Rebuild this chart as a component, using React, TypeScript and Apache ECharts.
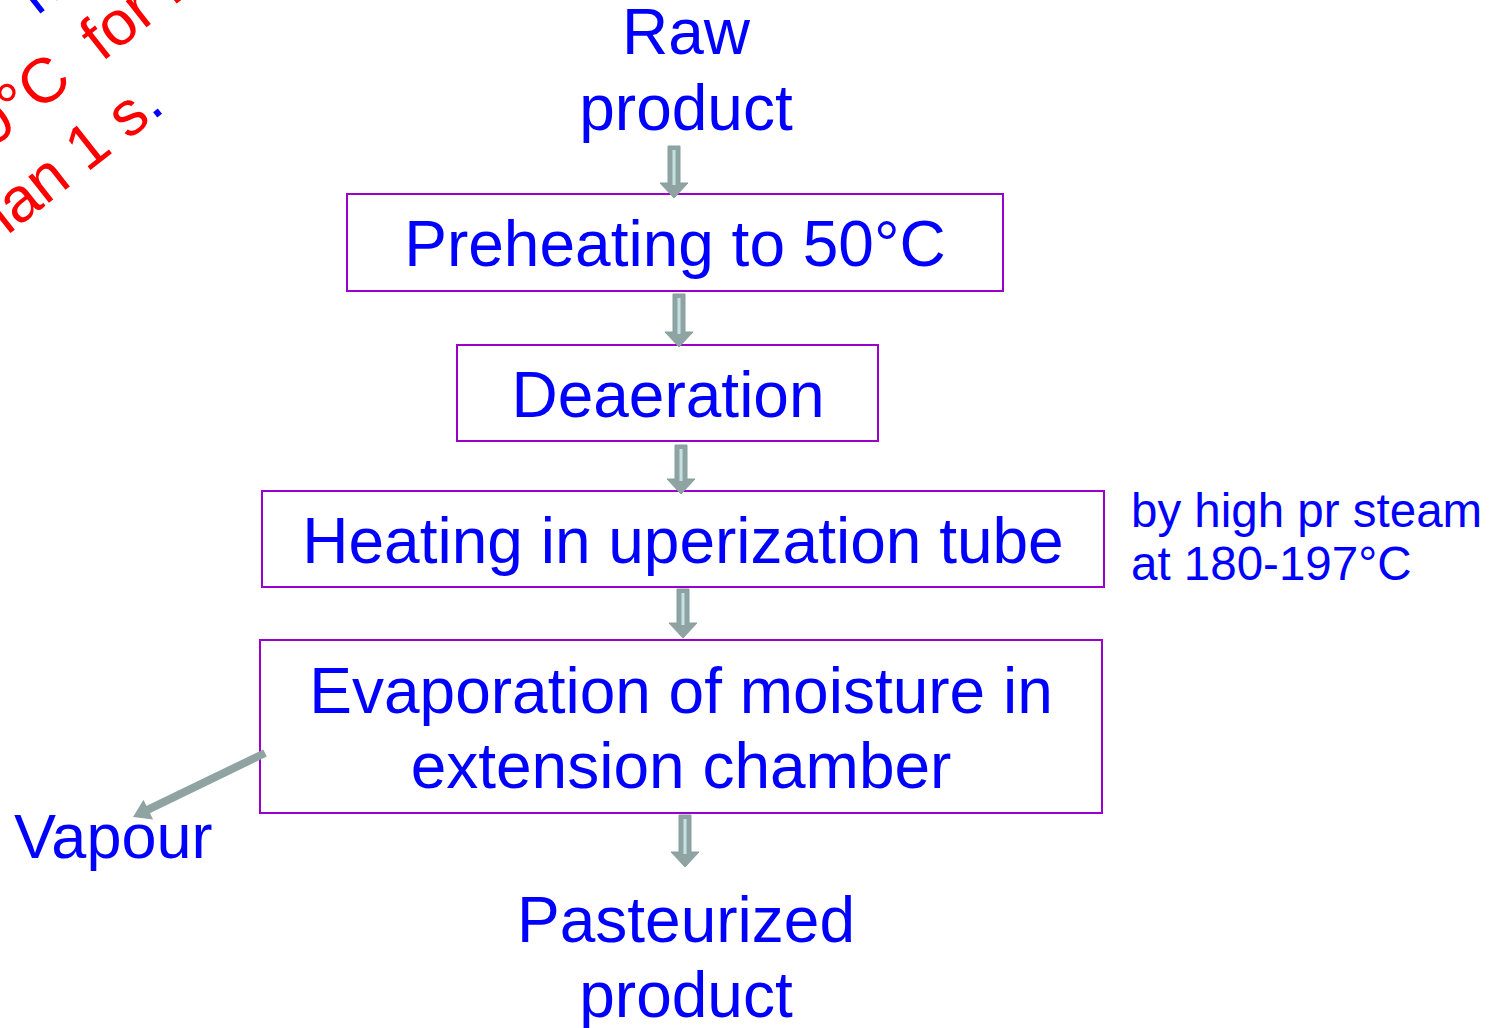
import React, { useEffect, useRef } from "react";
import * as echarts from "echarts";

// ---- content ----
const inputLines = ["Raw", "product"];
const stepLabels = [
  ["Preheating to 50°C"],
  ["Deaeration"],
  ["Heating in uperization tube"],
  ["Evaporation of moisture in", "extension chamber"],
];
const outputLines = ["Pasteurized", "product"];
const sideNoteLines = ["by high pr steam", "at 180-197°C"];
const vapourLabel = "Vapour";
const noteLine1 = "heated";
const noteLine2 = "to 150°C  for not";
const noteLine3 = "more than 1 s";
const noteLine3End = ".";

// ---- layout ----
const W = 1497;
const H = 1028;
const FONT = "'Liberation Sans', Arial, sans-serif";
const BIG = 64;
const SMALL = 47.5;
const BLUE = "#0000ff";
const PURPLE = "#9900cc";
const ARROW = "#8fa3a3";
const ARROW_HI = "#c4e2e2";

const boxes = [
  { x: 347, y: 194, w: 656, h: 97, cx: 675 },
  { x: 457, y: 345, w: 421, h: 96, cx: 668 },
  { x: 262, y: 491, w: 842, h: 96, cx: 683 },
  { x: 260, y: 640, w: 842, h: 173, cx: 681 },
];
const stepBaselines = [[266], [417], [563], [713, 788]];
const arrows = [
  { cx: 674, top: 146, head: 183, tip: 198 },
  { cx: 679, top: 294, head: 332, tip: 347 },
  { cx: 681, top: 445, head: 479, tip: 494 },
  { cx: 683, top: 589, head: 623, tip: 638 },
  { cx: 685, top: 815, head: 852, tip: 867 },
];

function mid(baseline: number, size: number) {
  return baseline - 0.3465 * size;
}

function blockArrow(a: { cx: number; top: number; head: number; tip: number }) {
  const sw = 6;
  const hw = 14;
  return [
    {
      type: "polygon",
      shape: {
        points: [
          [a.cx - sw, a.top],
          [a.cx + sw, a.top],
          [a.cx + sw, a.head],
          [a.cx + hw, a.head],
          [a.cx, a.tip],
          [a.cx - hw, a.head],
          [a.cx - sw, a.head],
        ],
      },
      style: { fill: ARROW, stroke: "#86a0a0", lineWidth: 1 },
      z: 10,
    },
    {
      type: "line",
      shape: { x1: a.cx, y1: a.top + 4, x2: a.cx, y2: a.head + 2 },
      style: { stroke: ARROW_HI, lineWidth: 3 },
      z: 11,
    },
  ];
}

function bigText(text: string, x: number, baseline: number, color = BLUE, align = "center", size = BIG) {
  return {
    type: "text",
    x,
    y: mid(baseline, size),
    style: {
      text,
      fill: color,
      font: `${size}px ${FONT}`,
      align,
      verticalAlign: "middle",
    },
    z: 20,
  };
}

export default function App() {
  const ref = useRef<HTMLDivElement>(null);

  useEffect(() => {
    if (!ref.current) return;
    const chart = echarts.init(ref.current, undefined, { renderer: "svg" });
    const elements: any[] = [];

    // input
    elements.push(bigText(inputLines[0], 686, 54));
    elements.push(bigText(inputLines[1], 686, 130));

    // boxes and labels
    boxes.forEach((b, i) => {
      elements.push({
        type: "rect",
        shape: { x: b.x, y: b.y, width: b.w, height: b.h },
        style: { fill: "none", stroke: PURPLE, lineWidth: 2 },
        z: 5,
      });
      stepLabels[i].forEach((t, j) => {
        elements.push(bigText(t, b.cx, stepBaselines[i][j]));
      });
    });

    // output
    elements.push(bigText(outputLines[0], 686, 942));
    elements.push(bigText(outputLines[1], 686, 1017));

    // side note
    elements.push(bigText(sideNoteLines[0], 1131, 527, BLUE, "left", SMALL));
    elements.push(bigText(sideNoteLines[1], 1131, 580, BLUE, "left", SMALL));

    // vapour
    elements.push(bigText(vapourLabel, 14, 858, BLUE, "left", 63));

    // arrows
    arrows.forEach((a) => elements.push(...blockArrow(a)));

    // diagonal vapour arrow
    const from = [265, 753];
    const tip = [133, 817];
    const dx = tip[0] - from[0];
    const dy = tip[1] - from[1];
    const len = Math.hypot(dx, dy);
    const ux = dx / len;
    const uy = dy / len;
    const hl = 17;
    const hw = 11;
    const bx = tip[0] - hl * ux;
    const by = tip[1] - hl * uy;
    elements.push({
      type: "line",
      shape: { x1: from[0], y1: from[1], x2: bx + 2 * ux, y2: by + 2 * uy },
      style: { stroke: ARROW, lineWidth: 8 },
      z: 10,
    });
    elements.push({
      type: "polygon",
      shape: {
        points: [
          [tip[0], tip[1]],
          [bx - hw * uy, by + hw * ux],
          [bx + hw * uy, by - hw * ux],
        ],
      },
      style: { fill: ARROW },
      z: 10,
    });

    // rotated note at top-left (partly off page)
    const NOTE = 63;
    const ang = (38.2 * Math.PI) / 180;
    const upx = -Math.sin(ang);
    const upy = -Math.cos(ang);
    const off = 0.3465 * NOTE;
    const rot = (start: number[], rich: any, text: string, fill: string) => ({
      type: "text",
      x: start[0] + off * upx,
      y: start[1] + off * upy,
      rotation: ang,
      style: {
        text,
        rich,
        font: `${NOTE}px ${FONT}`,
        fill,
        align: "left",
        verticalAlign: "middle",
      },
      z: 20,
    });
    const l3 = [-150, 359];
    const l2 = [-119, 236];
    const l1 = [37, 16];
    elements.push(rot(l1, undefined, noteLine1, BLUE));
    elements.push(rot(l2, undefined, noteLine2, "#ff0000"));
    elements.push(
      rot(
        l3,
        {
          r: { fill: "#ff0000", font: `${NOTE}px ${FONT}` },
          b: { fill: BLUE, font: `${NOTE}px ${FONT}` },
        },
        `{r|${noteLine3}}{b|${noteLine3End}}`,
        "#ff0000"
      )
    );

    chart.setOption({
      animation: false,
      backgroundColor: "#ffffff",
      graphic: { elements },
    });
    return () => chart.dispose();
  }, []);

  return (
    <div
      ref={ref}
      style={{ position: "absolute", left: 0, top: 0, width: W, height: H }}
    />
  );
}
